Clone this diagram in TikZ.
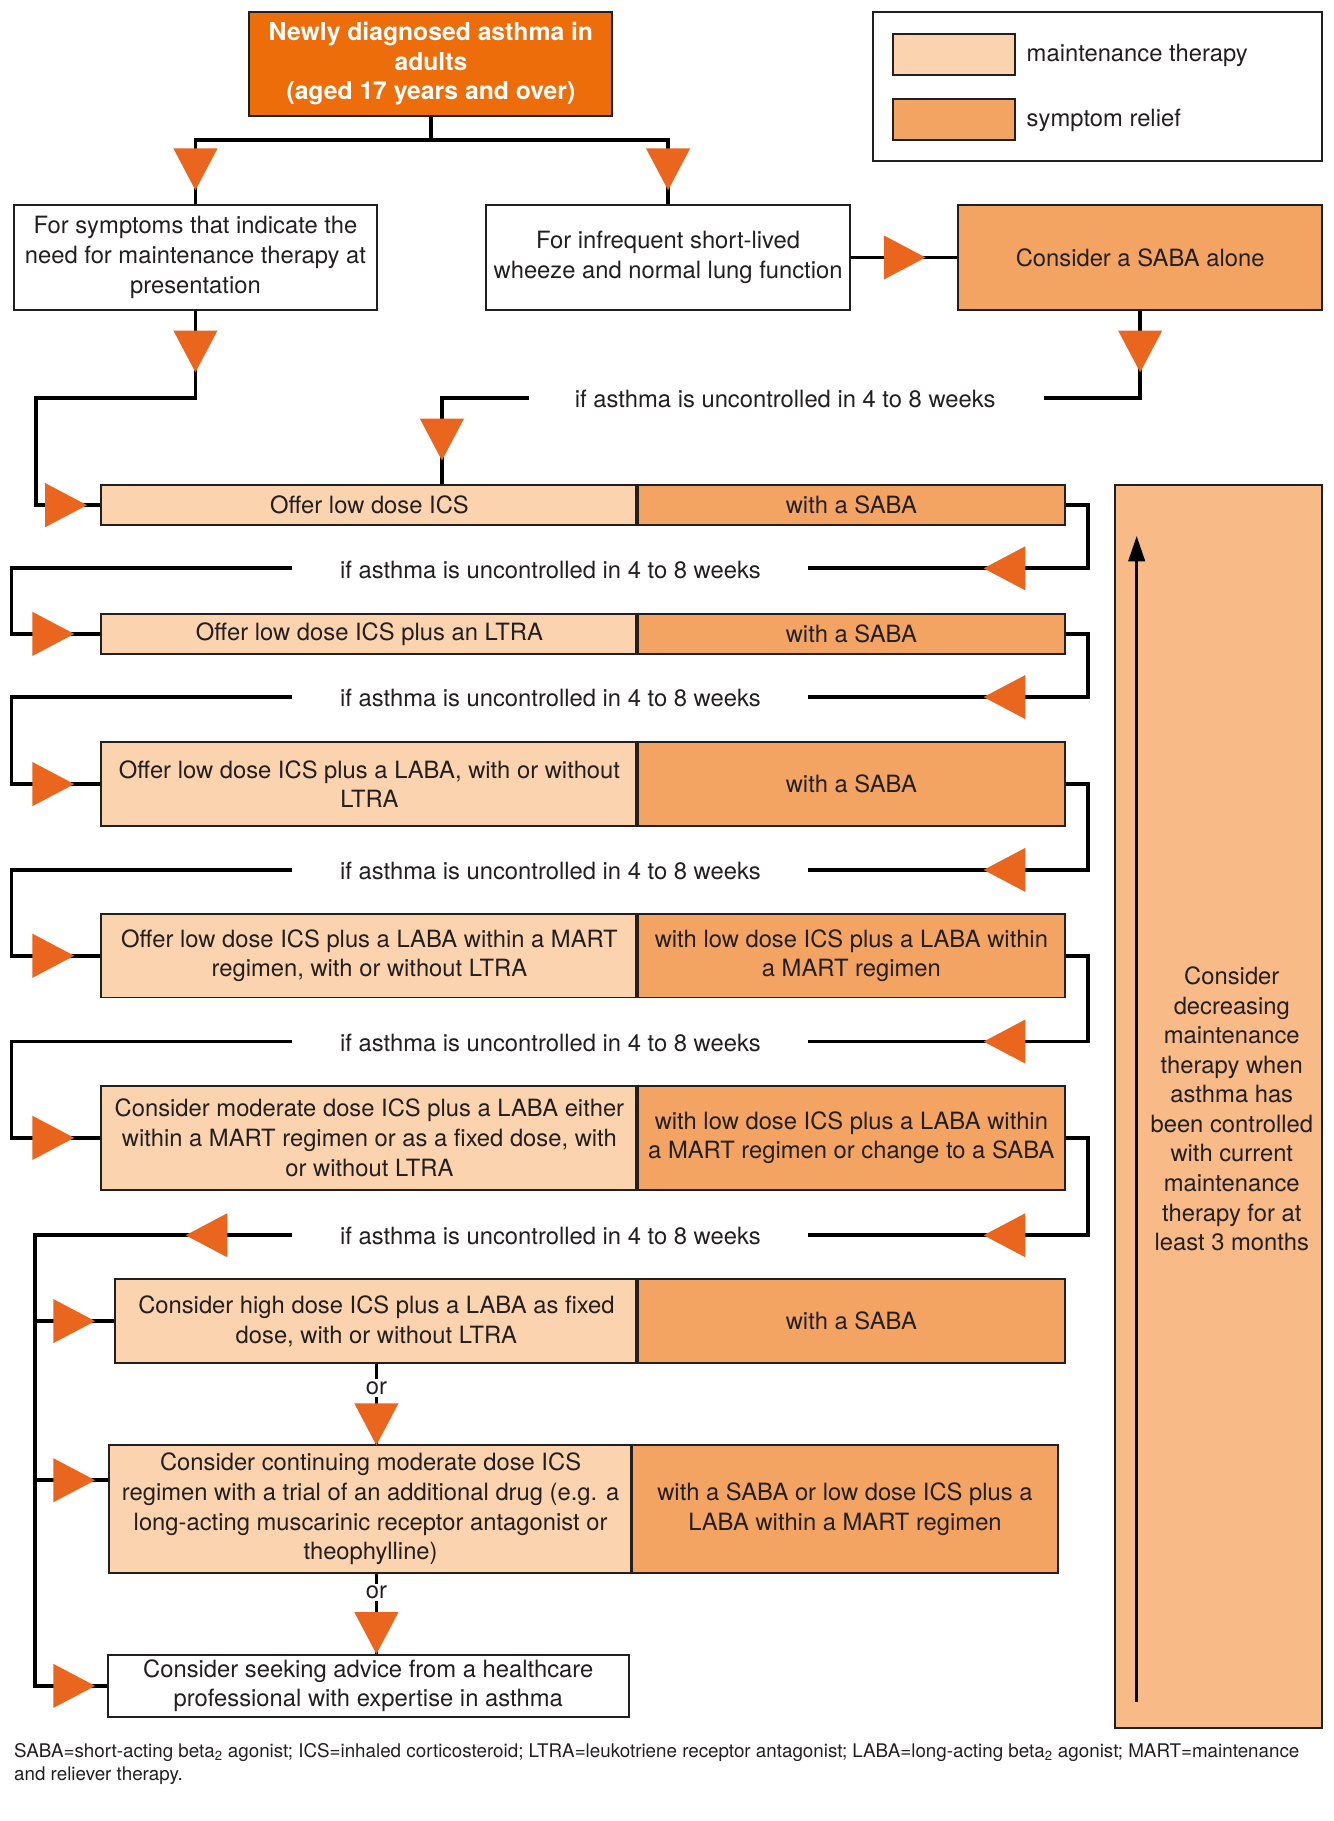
\documentclass[tikz,border=0pt]{standalone}
\usepackage{fontspec}
\setmainfont{TeX Gyre Heros}
\usetikzlibrary{arrows.meta,calc}
\definecolor{topC}{HTML}{EC6D0A}
\definecolor{triC}{HTML}{EA651E}
\definecolor{maintC}{HTML}{FBD3AE}
\definecolor{reliefC}{HTML}{F4A462}
\definecolor{bigC}{HTML}{F8BA86}
\definecolor{lineC}{HTML}{231F20}
\definecolor{txtC}{HTML}{231F20}
\tikzset{
  fs/.style={font=\fontsize{20.5}{25.5}\selectfont},
  cell/.style={draw=lineC, line width=1.6pt, align=center, inner sep=0pt, fs, text=txtC},
  mcell/.style={cell, fill=maintC},
  rcell/.style={cell, fill=reliefC},
  wcell/.style={cell, fill=white},
  conn/.style={draw=black, line width=3.2pt},
  lbl/.style={fs, text=txtC, inner sep=0pt},
  sepline/.style={draw=lineC, line width=2.8pt},
  tri/.pic={\fill[triC] (0,0) -- (-36,-19) -- (-36,19) -- cycle;},
}
\begin{document}
\begin{tikzpicture}[x=1pt,y=-1pt]
\useasboundingbox (0,0) rectangle (1150,1570);
\fill[white] (0,0) rectangle (1150,1570);

% legend
\node[draw=lineC, line width=1.6pt, minimum width=387, minimum height=129] (Lg) at (946.5,74.5) {};
\node[mcell, minimum width=105, minimum height=36] (S1) at (822.5,47) {};
\node[lbl, anchor=west] (S1t) at (885,48) {maintenance therapy};
\node[rcell, minimum width=105, minimum height=36] (S2) at (822.5,103) {};
\node[lbl, anchor=west] (S2t) at (885,104) {symptom relief};

% top
\node[cell, fill=topC, text=white, font=\bfseries\fontsize{21.3}{25.5}\selectfont, minimum width=313, minimum height=90] (T) at (371.5,55) {Newly diagnosed asthma in\\adults\\(aged 17 years and over)};
\node[wcell, minimum width=313, minimum height=90] (A) at (168.5,222) {For symptoms that indicate the\\need for maintenance therapy at\\presentation};
\node[wcell, minimum width=314, minimum height=90] (B) at (576,222) {For infrequent short-lived\\wheeze and normal lung function};
\node[rcell, minimum width=314, minimum height=90] (C) at (983,222) {Consider a SABA alone};

% rows
\node[mcell, minimum width=463, minimum height=35] (L1) at (318.5,435.5) {Offer low dose ICS};
\node[rcell, minimum width=368, minimum height=35] (R1) at (734,435.5) {with a SABA};
\node[mcell, minimum width=463, minimum height=35] (L2) at (318.5,546.5) {Offer low dose ICS plus an LTRA};
\node[rcell, minimum width=368, minimum height=35] (R2) at (734,546.5) {with a SABA};
\node[mcell, minimum width=463, minimum height=72] (L3) at (318.5,676) {Offer low dose ICS plus a LABA, with or without\\LTRA};
\node[rcell, minimum width=368, minimum height=72] (R3) at (734,676) {with a SABA};
\node[mcell, minimum width=463, minimum height=72] (L4) at (318.5,824) {Offer low dose ICS plus a LABA within a MART\\regimen, with or without LTRA};
\node[rcell, minimum width=368, minimum height=72] (R4) at (734,824) {with low dose ICS plus a LABA within\\a MART regimen};
\node[mcell, minimum width=463, minimum height=90] (L5) at (318.5,981) {Consider moderate dose ICS plus a LABA either\\within a MART regimen or as a fixed dose, with\\or without LTRA};
\node[rcell, minimum width=368, minimum height=90] (R5) at (734,981) {with low dose ICS plus a LABA within\\a MART regimen or change to a SABA};
\node[mcell, minimum width=451, minimum height=72] (L6) at (324.5,1139) {Consider high dose ICS plus a LABA as fixed\\dose, with or without LTRA};
\node[rcell, minimum width=368, minimum height=72] (R6) at (734,1139) {with a SABA};
\node[mcell, minimum width=451, minimum height=110] (L7) at (319.5,1301) {Consider continuing moderate dose ICS\\regimen with a trial of an additional drug (e.g. a\\long-acting muscarinic receptor antagonist or\\theophylline)};
\node[rcell, minimum width=367, minimum height=110] (R7) at (728.5,1301) {with a SABA or low dose ICS plus a\\LABA within a MART regimen};
\node[wcell, minimum width=449, minimum height=53] (L8) at (317.5,1453.5) {Consider seeking advice from a healthcare\\professional with expertise in asthma};

\foreach \r in {R1,R2,R3,R4,R5,R6,R7} {\draw[sepline] (\r.north west) -- (\r.south west);}

% tall box
\node[cell, fill=bigC, minimum width=179, minimum height=1072] (D) at (1050.5,954) {};
\node[lbl, align=center] (Dt) at (1062,956) {Consider\\decreasing\\maintenance\\therapy when\\asthma has\\been controlled\\with current\\maintenance\\therapy for at\\least 3 months};
\coordinate (da) at (980,1467);
\coordinate (db) at (980,462);
\draw[line width=3pt, -{Triangle[length=22pt,width=14pt]}] (da) -- (db);

% labels
\node[lbl] (U0) at (677,344) {if asthma is uncontrolled in 4 to 8 weeks};
\node[lbl] (U1) at (474.5,491) {if asthma is uncontrolled in 4 to 8 weeks};
\node[lbl] (U2) at (474.5,602) {if asthma is uncontrolled in 4 to 8 weeks};
\node[lbl] (U3) at (474.5,751) {if asthma is uncontrolled in 4 to 8 weeks};
\node[lbl] (U4) at (474.5,899) {if asthma is uncontrolled in 4 to 8 weeks};
\node[lbl] (U5) at (474.5,1066) {if asthma is uncontrolled in 4 to 8 weeks};

% top connectors
\draw[conn] (T.south) -- ++(0,20) -| (A.north);
\draw[conn] (T.south) -- ++(0,20) -| (B.north);
\pic[rotate=-90] at (168.5,164) {tri};
\pic[rotate=-90] at (576,164) {tri};
\draw[conn] (B.east) -- (C.west);
\pic at (798,222) {tri};

\coordinate (a1) at (31,343);
\draw[conn] (A.south) |- (a1) |- (L1.west);
\pic[rotate=-90] at (168.5,321) {tri};
\pic at (75,435.5) {tri};

\coordinate (u0r) at (900,343);
\draw[conn] (C.south) |- (u0r);
\pic[rotate=-90] at (983,321) {tri};
\coordinate (u0l) at (456,343);
\coordinate (j0) at (381,343);
\draw[conn] (u0l) -- (j0) -- (j0 |- L1.north);
\pic[rotate=-90] at (381,397) {tri};

% row loops
\foreach \i/\n/\y in {1/2/490, 2/3/601, 3/4/750, 4/5/898} {
  \coordinate (ur\i) at (697,\y);
  \coordinate (ul\i) at (252,\y);
  \coordinate (bl\i) at (10,\y);
  \draw[conn] (R\i.east) -- ++(19,0) |- (ur\i);
  \draw[conn] (ul\i) -- (bl\i) |- (L\n.west);
  \pic[rotate=180] at (848,\y) {tri};
  \pic at (64,0 |- L\n.west) {tri};
}
\coordinate (ur5) at (697,1065);
\coordinate (ul5) at (252,1065);
\coordinate (bus) at (30,1065);
\draw[conn] (R5.east) -- ++(19,0) |- (ur5);
\pic[rotate=180] at (848,1065) {tri};
\draw[conn] (ul5) -- (bus) |- (L8.west);
\pic[rotate=180] at (160,1065) {tri};
\draw[conn] (bus |- L6.west) -- (L6.west);
\coordinate (in7) at ($(L7.north west)+(0,31)$);
\draw[conn] (bus |- in7) -- (in7);
\pic at (82,1139) {tri};
\pic at (82,0 |- in7) {tri};
\pic at (82,1453.5) {tri};

% or connectors
\draw[conn, line width=2.6pt] (L6.south) -- (L6.south |- L7.north);
\node[lbl, fill=white, inner sep=2pt] (or1) at (324.5,1197) {or};
\pic[rotate=-90] at (324.5,1246) {tri};
\draw[conn, line width=2.6pt] (L6.south |- L7.south) -- (L6.south |- L8.north);
\node[lbl, fill=white, inner sep=2pt] (or2) at (324.5,1373) {or};
\pic[rotate=-90] at (324.5,1426) {tri};

% footnote
\node[anchor=north west, font=\fontsize{16.2}{19.5}\selectfont, align=left, inner sep=0pt, text=txtC] (FN) at (12,1503) {SABA=short-acting beta\textsubscript{2} agonist; ICS=inhaled corticosteroid; LTRA=leukotriene receptor antagonist; LABA=long-acting beta\textsubscript{2} agonist; MART=maintenance\\and reliever therapy.};
\end{tikzpicture}
\end{document}
